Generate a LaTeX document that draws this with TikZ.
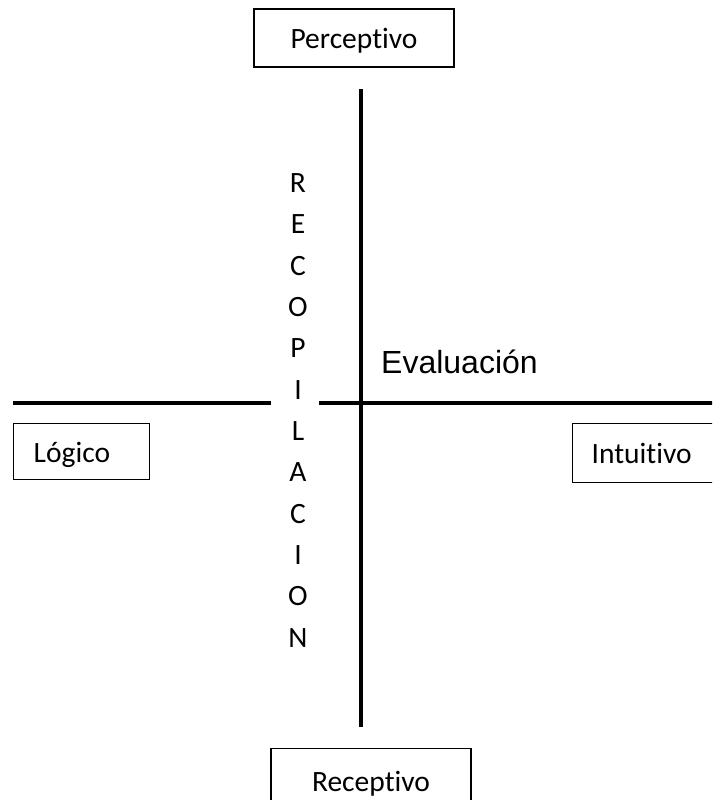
\documentclass[tikz,border=0pt]{standalone}
\usepackage{fontspec}
\setmainfont{Carlito}[Ligatures=NoCommon]
\newfontfamily\arialfont{Liberation Sans}
\begin{document}
\begin{tikzpicture}[x=1pt,y=-1pt,
  axis/.style={line width=4pt},
  labelbox/.style={draw, line width=1.4pt, inner sep=0pt,
    text height=25pt, text depth=4pt,
    font=\fontsize{29.5}{35}\selectfont},
  leftbox/.style={labelbox, align=left, anchor=north west},
  letter/.style={inner sep=0pt, font=\fontsize{29.5}{35}\selectfont},
  eval/.style={inner sep=0pt, anchor=base west,
    font=\arialfont\fontsize{32}{38}\selectfont}]
  \useasboundingbox (0,0) rectangle (712,800);
  \clip (0,0) rectangle (712,800);

  % axes
  \coordinate (vtop) at (361,89);
  \coordinate (vbot) at (361,727);
  \coordinate (hl1) at (13,403);
  \coordinate (hl2) at (271,403);
  \coordinate (hr1) at (319,403);
  \coordinate (hr2) at (716,403);
  \draw[axis] (vtop) -- (vbot);
  \draw[axis] (hl1) -- (hl2);
  \draw[axis] (hr1) -- (hr2);

  % the four poles
  \node[labelbox, minimum width=200pt, minimum height=58pt] (perc) at (354,38) {Perceptivo};
  \node[labelbox, minimum width=200pt, minimum height=64pt, anchor=north] (rec) at (371,748) {Receptivo};
  \node[leftbox, text width=96pt, inner xsep=20pt, minimum height=56pt] (log) at (13,423) {Lógico};
  \node[leftbox, text width=162pt, inner xsep=19pt, minimum height=59pt] (int) at (572,423) {Intuitivo};

  % vertical word
  \foreach \ch [count=\i from 0] in {R,E,C,O,P,I,L,A,C,I,O,N} {
    \node[letter] (rc\i) at (298,183+41.35*\i) {\ch};
  }

  \node[eval] (eva) at (381,373) {Evaluación};
\end{tikzpicture}
\end{document}
